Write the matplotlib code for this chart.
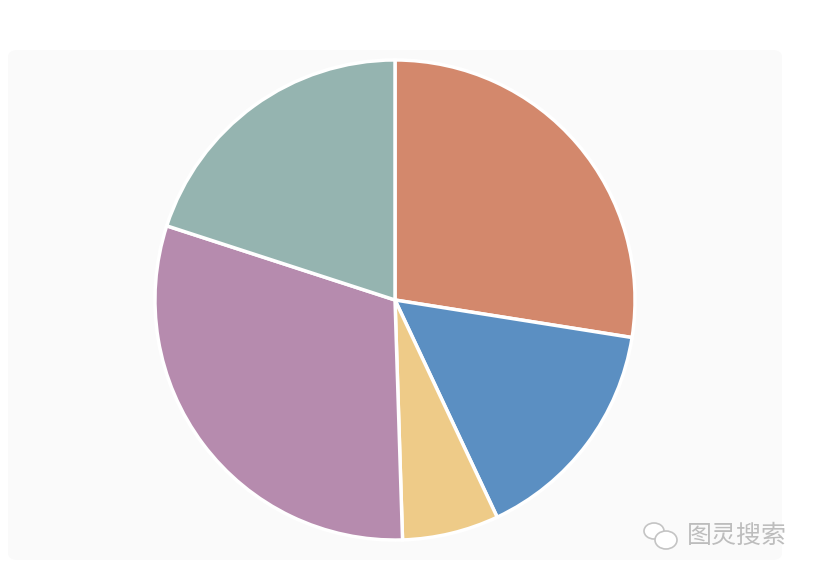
import matplotlib
matplotlib.use('Agg')
import matplotlib.pyplot as plt
from matplotlib.patches import FancyBboxPatch, Ellipse

# slice shares, clockwise from 12 o'clock
values = [27.5, 15.5, 6.5, 30.5, 20.0]
colors = ['#D3886C', '#5B8FC2', '#EECB88', '#B68BAE', '#95B4B0']

fig = plt.figure(figsize=(8.18, 5.76), dpi=100)
fig.patch.set_facecolor('white')

# light grey card behind the pie
W, H = 818, 576
card = FancyBboxPatch((8 / W, (576 - 560) / H), (782 - 8) / W, (560 - 50) / H,
                      boxstyle='round,pad=0,rounding_size=0.012',
                      transform=fig.transFigure, facecolor='#FAFAFA',
                      edgecolor='none', zorder=-5)
fig.patches.append(card)

# pie: centre (395, 300), radius 240 px
ax = fig.add_axes([(395 - 241) / W, (576 - 541) / H, 482 / W, 482 / H])
ax.pie(values, colors=colors, startangle=90, counterclock=False,
       wedgeprops=dict(edgecolor='white', linewidth=2.5))
ax.set_xlim(-1.004, 1.004)
ax.set_ylim(-1.004, 1.004)
ax.set_aspect('equal')
ax.axis('off')

# watermark
wm = fig.add_axes([0, 0, 1, 1], facecolor='none')
wm.set_xlim(0, W)
wm.set_ylim(H, 0)
wm.axis('off')
wm.add_patch(Ellipse((654, 531), 20, 16, facecolor='white', edgecolor='#C4C4C4', lw=1.2))
wm.add_patch(Ellipse((666, 540), 22, 18, facecolor='white', edgecolor='#C4C4C4', lw=1.2))
wm.text(687, 536, '图灵搜索', fontsize=18, color='#BDBDBD', va='center', ha='left',
        family=['Noto Sans CJK SC', 'DejaVu Sans'])

fig.savefig('out.png', dpi=100)
